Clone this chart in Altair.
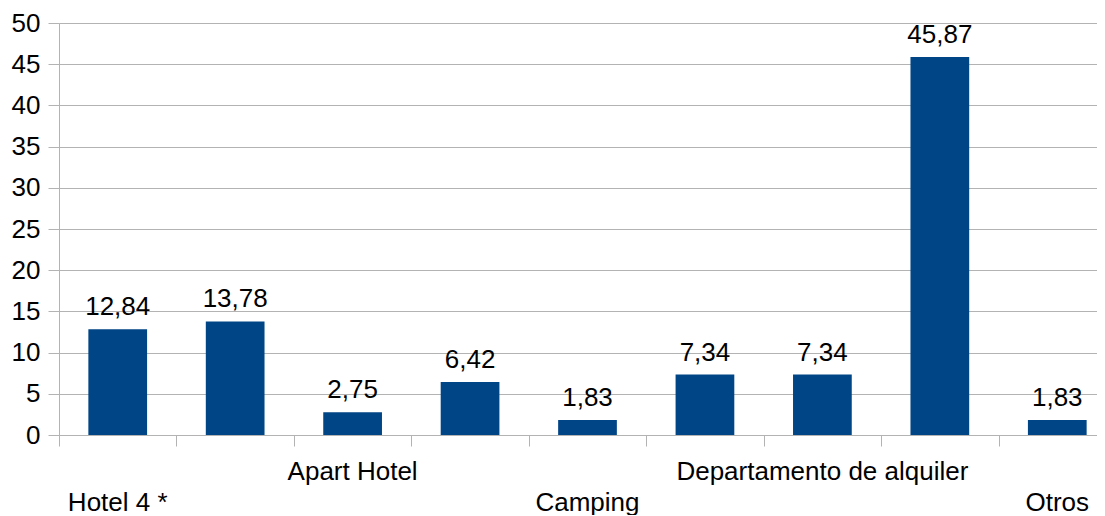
import altair as alt
import pandas as pd

labels = ["Hotel 4 *", "", "Apart Hotel", "", "Camping", "", "Departamento de alquiler", "", "Otros"]
values = [12.84, 13.78, 2.75, 6.42, 1.83, 7.34, 7.34, 45.87, 1.83]

df = pd.DataFrame({
    "pos": list(range(len(values))),
    "label": labels,
    "value": values,
    "text": [f"{v:.2f}".replace(".", ",") for v in values],
})

FONT = "Liberation Sans"
GRAY = "#b3b3b3"
FS = 26

x = alt.X("pos:O",
          scale=alt.Scale(paddingInner=0, paddingOuter=0),
          axis=alt.Axis(labels=False, title=None, ticks=True, tickBand="extent",
                        tickSize=11, tickColor=GRAY, domainColor=GRAY, grid=False))
y = alt.Y("value:Q",
          scale=alt.Scale(domain=[0, 50], nice=False),
          axis=alt.Axis(values=list(range(0, 51, 5)), title=None, grid=True, gridColor=GRAY,
                        domainColor=GRAY, tickColor=GRAY, tickSize=11, labelPadding=8,
                        labelFont=FONT, labelFontSize=FS, labelColor="black"))

base = alt.Chart(df)
bars = base.mark_bar(color="#004586", width=alt.RelativeBandSize(0.5)).encode(x=x, y=y)
vlabels = base.mark_text(font=FONT, fontSize=FS, dy=-14, baseline="alphabetic", color="black").encode(
    x=x, y=y, text="text:N")
row1 = base.transform_filter("datum.pos % 4 == 2").mark_text(
    font=FONT, fontSize=FS, baseline="alphabetic", color="black").encode(
    x=x, y=alt.value(457), text="label:N")
row2 = base.transform_filter("datum.pos % 4 == 0").mark_text(
    font=FONT, fontSize=FS, baseline="alphabetic", color="black").encode(
    x=x, y=alt.value(488), text="label:N")

chart = alt.layer(bars, vlabels, row1, row2).properties(
    width=1057, height=412,
    autosize=alt.AutoSizeParams(type="none"),
    padding={"left": 51, "top": 15, "right": -19, "bottom": 80},
).configure_view(stroke=None).configure(background="white")

chart.save("out.html", embed_options={"renderer": "svg", "actions": False})
